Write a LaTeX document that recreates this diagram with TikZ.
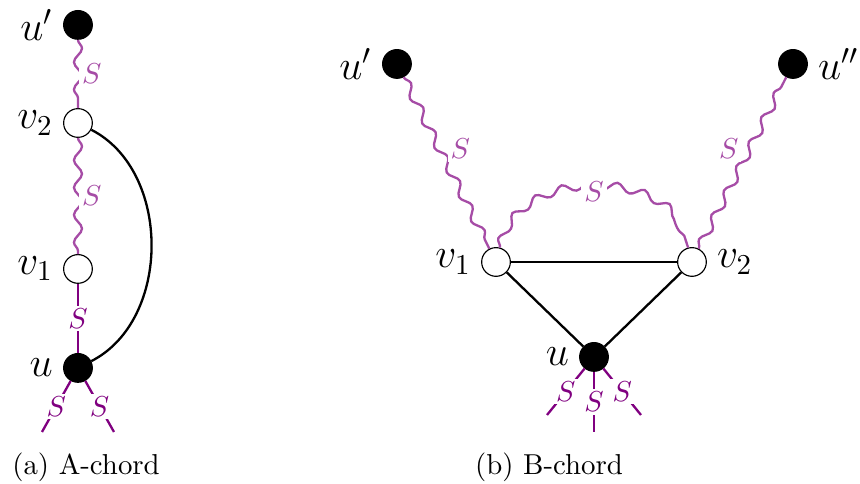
\documentclass[tikz,border=0pt]{standalone}
\usepackage{amsmath, amssymb}
\usepackage{xcolor}
\usetikzlibrary{decorations.pathmorphing}

\begin{document}
\begin{tikzpicture}[
  bvert/.style={circle, draw, fill=black, minimum size=0.35cm, inner sep=0pt},
  wvert/.style={circle, draw, fill=white, minimum size=0.35cm, inner sep=0pt},
  every label/.style={font=\Large},
  sline/.style={thick, violet},
  wline/.style={thick, violet!70, decorate,
    decoration={snake, amplitude=1.4pt, segment length=9.5pt}},
  slab/.style={fill=white, inner sep=1pt}
]
\useasboundingbox (0,0) rectangle (10.488,5.902);
% (a) 节点
\node[bvert, label=left:$u'$] (upa) at (0.951,5.598) {};
\node[wvert, label=left:$v_2$] (v2a) at (0.951,4.402) {};
\node[wvert, label=left:$v_1$] (v1a) at (0.951,2.622) {};
\node[bvert, label=left:$u$] (ua) at (0.951,1.415) {};
\coordinate (la) at (0.512,0.634);
\coordinate (ra) at (1.390,0.634);
% (a) 连线
\draw[wline] (upa) -- node[right, slab] {$S$} (v2a);
\draw[wline] (v2a) -- node[right, slab] {$S$} (v1a);
\draw[sline] (v1a) -- node[slab] {$S$} (ua);
\draw[sline] (ua) -- node[slab] {$S$} (la);
\draw[sline] (ua) -- node[slab] {$S$} (ra);
\draw[thick] (v2a) to[bend left=63] (ua);
% (b) 节点
\node[bvert, label=left:$u'$] (upb) at (4.841,5.122) {};
\node[bvert, label=right:$u''$] (uppb) at (9.671,5.122) {};
\node[wvert, label=left:$v_1$] (v1b) at (6.049,2.707) {};
\node[wvert, label=right:$v_2$] (v2b) at (8.439,2.707) {};
\node[bvert, label=left:$u$] (ub) at (7.244,1.549) {};
\coordinate (lb) at (6.671,0.841);
\coordinate (mb) at (7.244,0.634);
\coordinate (rb) at (7.817,0.841);
% (b) 连线
\draw[wline] (upb) -- node[above right, slab] {$S$} (v1b);
\draw[wline] (v2b) -- node[above left, slab] {$S$} (uppb);
\draw[wline] (v1b) to[out=75, in=105, looseness=1.05] node[slab] {$S$} (v2b);
\draw[thick] (v1b) -- (v2b);
\draw[thick] (v1b) -- (ub);
\draw[thick] (v2b) -- (ub);
\draw[sline] (ub) -- node[slab] {$S$} (lb);
\draw[sline] (ub) -- node[slab] {$S$} (mb);
\draw[sline] (ub) -- node[slab] {$S$} (rb);
% 标题
\node (capa) at (1.049,0.207) {(a) A-chord};
\node (capb) at (6.695,0.207) {(b) B-chord};
\end{tikzpicture}
\end{document}
